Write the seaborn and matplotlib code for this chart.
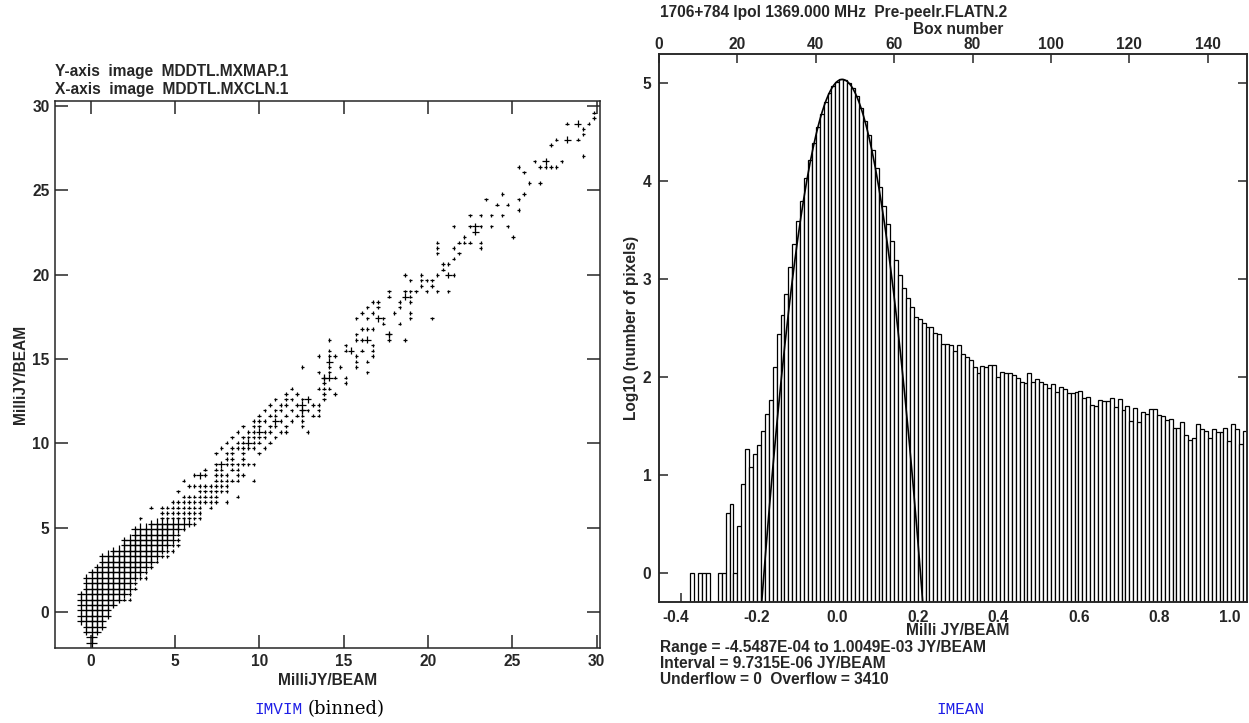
import numpy as np
import pandas as pd
import matplotlib
matplotlib.use("Agg")
import matplotlib.pyplot as plt
import matplotlib.transforms as mtransforms
import seaborn as sns

nan = np.nan

# ---- IMEAN histogram: log10(number of pixels) per box, NaN = empty box ----
range_lo = -0.45487      # milli JY/BEAM
range_hi = 1.0049
box_width = 0.0097315
hist_log10 = (
    [nan] * 8
    + [0.0, nan, 0.0, 0.0, 0.0, nan, nan, 0.0, 0.0]
    + [0.61, 0.70, 0.0, 0.48, 0.91, 1.26, 1.08, 1.21, 1.30, 1.45,
       1.62, 1.76, 2.10, 2.44, 2.63, 2.85, 3.12, 3.36, 3.59, 3.80,
       4.03, 4.22, 4.39, 4.55, 4.69, 4.81, 4.90, 4.97, 5.01, 5.04,
       5.03, 5.00, 4.95, 4.87, 4.75, 4.62, 4.47, 4.32, 4.13, 3.94,
       3.75, 3.56, 3.39, 3.20, 3.04, 2.91, 2.81, 2.71, 2.61, 2.59,
       2.55, 2.51, 2.51, 2.45, 2.44, 2.34, 2.34, 2.33, 2.26, 2.33,
       2.23, 2.20, 2.17, 2.10, 2.04, 2.11, 2.10, 2.12, 2.12, 2.00,
       2.05, 2.04, 2.04, 2.02, 1.99, 1.95, 1.94, 2.04, 1.95, 1.98,
       1.95, 1.93, 1.89, 1.93, 1.85, 1.90, 1.88, 1.84, 1.84, 1.85,
       1.86, 1.78, 1.80, 1.71, 1.70, 1.76, 1.75, 1.75, 1.78, 1.69,
       1.77, 1.66, 1.70, 1.55, 1.68, 1.54, 1.64, 1.62, 1.67, 1.67,
       1.61, 1.60, 1.56, 1.57, 1.48, 1.48, 1.54, 1.41, 1.36, 1.38,
       1.52, 1.47, 1.45, 1.38, 1.47, 1.44, 1.44, 1.48, 1.35, 1.52,
       1.47, 1.31, 1.45]
)
# gaussian fit drawn over the histogram
fit_peak = 5.04
fit_center = 0.0
fit_sigma = 0.0403

# ---- IMVIM binned scatter: bin grid (MilliJY/BEAM) ----
bin_size = 0.3205
bin_x0 = 0.046
bin_y0 = 0.10
# dense core: per row j, columns i_lo..i_hi carry the big crosses,
# then a few small ones further right
core_j = list(range(-6, 17))
core_ilo = [0, 0, -1, -1, -2, -2, -2, -2, -2, -2, -1, -1, -1, 0, 1, 2, 2, 4, 6, 6, 8, 8, 11]
core_ihi = [0, 0, 1, 2, 2, 3, 3, 4, 5, 6, 7, 7, 8, 9, 10, 11, 12, 13, 14, 15, 15, 16, 18]
core_extra = [0, 0, 0, 0, 0, 0, 0, 0, 2, 1, 1, 1, 2, 1, 1, 1, 2, 2, 2, 1, 1, 1, 1]
# middle band rows: occupied columns per row
band_rows = {
    17: [9, 13, 14, 15, 16, 17, 18, 19, 20],
    18: [13, 14, 15, 16, 17, 18, 19, 20],
    19: [11, 13, 14, 15, 16, 17, 18, 19, 20, 22],
    20: [15, 16, 17, 18, 19, 20, 21, 22, 23, 25],
    21: [17, 18, 19, 20, 21, 22, 23, 27],
    22: [16, 20, 21, 22, 23, 24, 25],
    23: [18, 19, 20, 21, 22, 23, 24, 25],
    24: [17, 23, 24, 25, 26, 27, 30],
    25: [19, 20, 21, 23, 24, 25, 27, 28],
    26: [21, 23, 24, 26, 27],
    27: [23, 24, 25, 26, 27, 28, 29, 30],
    28: [25, 26, 28],
    29: [23, 25, 26, 28, 31],
    30: [24, 26, 27, 28, 29, 30, 32],
    31: [25, 27, 28, 29, 30, 31, 33],
    32: [26, 28, 29, 30, 31, 32, 34],
    33: [27, 29, 30, 31, 32, 33, 35, 36],
    34: [28, 30, 31, 33, 34, 36],
    35: [30, 31, 32, 34, 35, 37],
    36: [31, 33, 34, 36, 38],
    37: [32, 34, 35, 37],
    38: [33, 35, 36, 38],
    39: [34, 36, 37],
    40: [36, 38],
    41: [37],
}
band_mid = [(17, 25), (20, 25), (24, 27), (29, 31), (31, 33), (34, 35), (27, 29)]
# sparse bins (i, j), upper part of the plot
sparse_bins = [
    (93, 92), (93, 91), (92, 90), (88, 90), (91, 89), (91, 88), (86, 87), (90, 87),
    (85, 86), (91, 84), (82, 83), (87, 83), (83, 82), (84, 82), (85, 82), (86, 82),
    (79, 82), (80, 81), (81, 79), (83, 79), (76, 77), (80, 77), (73, 76), (79, 76),
    (75, 75), (77, 75), (79, 74), (70, 73), (72, 73), (74, 73), (76, 73), (67, 71),
    (70, 71), (72, 71), (74, 71), (77, 71), (69, 69), (68, 68), (69, 68), (70, 68),
    (72, 68), (72, 67), (78, 69), (64, 68), (64, 67), (64, 66), (67, 67), (68, 66),
    (67, 65), (65, 64), (66, 64), (65, 63), (64, 62), (67, 62), (58, 62), (59, 61),
    (61, 62), (61, 61), (62, 61), (63, 61), (61, 60), (63, 60), (55, 59), (55, 58),
    (58, 59), (59, 59), (60, 59), (62, 59), (64, 59), (66, 59), (59, 58), (59, 57),
    (52, 57), (53, 57), (51, 56), (53, 56), (57, 57), (57, 56), (56, 55), (49, 54),
    (51, 54), (52, 55), (50, 55), (54, 54), (54, 53), (59, 55), (59, 54), (63, 54),
    (57, 53), (50, 52), (51, 52), (52, 52), (55, 51), (55, 50), (58, 50), (49, 51),
    (49, 50), (50, 50), (52, 49), (52, 48), (52, 47), (51, 46), (51, 44), (47, 49),
    (47, 48), (50, 48), (49, 47), (49, 46), (49, 45), (44, 50), (44, 48), (44, 47),
    (45, 47), (42, 47), (44, 45), (46, 45), (42, 44), (44, 44), (43, 43), (45, 43),
    (47, 43), (47, 42), (43, 42), (42, 41), (43, 41), (44, 41), (43, 40), (45, 40),
    (43, 39), (39, 45), (39, 39), (41, 38), (42, 38), (39, 37), (40, 37), (42, 37),
    (41, 36), (42, 36), (39, 36), (39, 35), (39, 34), (40, 33),
]
big_bins = [(90, 90), (88, 87), (84, 83), (71, 71), (71, 70), (66, 62), (58, 58),
            (53, 54), (55, 51), (51, 50), (48, 48), (44, 46), (43, 43), (44, 43),
            (40, 39), (39, 38), (39, 37)]

# ---------------------------------------------------------------------------
sns.set_style("ticks")
plt.rcParams["font.family"] = ["Liberation Sans", "DejaVu Sans"]
plt.rcParams["font.weight"] = "bold"
plt.rcParams["axes.labelweight"] = "bold"
plt.rcParams["axes.linewidth"] = 1.1

W, H = 1249, 723
fig = plt.figure(figsize=(W / 100, H / 100), dpi=100)


def px_axes(x0, y0, x1, y1):
    return fig.add_axes([x0 / W, 1 - y1 / H, (x1 - x0) / W, (y1 - y0) / H])


def px_text(x, y, s, **kw):
    fig.text(x / W, 1 - y / H, s, **kw)


FS = 11.2

# ---------------- left: IMVIM scatter ----------------
rows = []
for j, lo, hi, ex in zip(core_j, core_ilo, core_ihi, core_extra):
    for i in range(lo, hi + 1):
        rows.append((i, j, "big" if lo < i < hi or lo == hi else "mid"))
    for i in range(hi + 1, hi + 1 + ex):
        rows.append((i, j, "small"))
for j, cols in band_rows.items():
    for i in cols:
        rows.append((i, j, "mid" if (i, j) in band_mid else "small"))
for i, j in sparse_bins:
    rows.append((i, j, "small"))
for i, j in big_bins:
    rows.append((i, j, "mid"))
pts = pd.DataFrame(rows, columns=["i", "j", "w"])
pts["x"] = bin_x0 + bin_size * pts["i"]
pts["y"] = bin_y0 + bin_size * pts["j"]

ax1 = px_axes(55, 101, 600, 648)
sns.scatterplot(data=pts, x="x", y="y", size="w",
                sizes={"small": 6, "mid": 25, "big": 70},
                marker="+", color="black", linewidth=0.9, legend=False, ax=ax1)
ax1.set_xlim(-2.13, 30.2)
ax1.set_ylim(-2.13, 30.28)
ax1.set_xticks(range(0, 31, 5))
ax1.set_yticks(range(0, 31, 5))
ax1.tick_params(direction="in", length=9.5, width=1.1, top=True, right=True,
                labelsize=FS, pad=4)
ax1.set_xlabel("MilliJY/BEAM", fontsize=FS, labelpad=3)
ax1.set_ylabel("MilliJY/BEAM", fontsize=FS, labelpad=3)
px_text(55, 76, "Y-axis  image  MDDTL.MXMAP.1", fontsize=FS, ha="left", va="baseline")
px_text(55, 94, "X-axis  image  MDDTL.MXCLN.1", fontsize=FS, ha="left", va="baseline")

# ---------------- right: IMEAN histogram ----------------
vals = np.array(hist_log10, dtype=float)
assert len(vals) == 150
centers = range_lo + (np.arange(len(vals)) + 0.5) * box_width
ybot = -0.3
ok = ~np.isnan(vals)

ax2 = px_axes(659, 54, 1247, 602)
ax2.bar(centers[ok], vals[ok] - ybot, bottom=ybot, width=box_width,
        color="white", edgecolor="black", linewidth=0.9)
fx = np.linspace(-0.3, 0.3, 241)
fy = fit_peak - (fx - fit_center) ** 2 / (2 * fit_sigma ** 2) * np.log10(np.e)
sns.lineplot(x=fx, y=fy, color="black", linewidth=1.2, ax=ax2)
ax2.set_xlim(range_lo, range_hi)
ax2.set_ylim(ybot, 5.3)
ax2.set_xticks(np.arange(-0.4, 1.01, 0.2))
ax2.set_xticklabels(["-0.4", "-0.2", "0.0", "0.2", "0.4", "0.6", "0.8", "1.0"])
ax2.set_yticks(range(0, 6))
ax2.tick_params(direction="in", length=6.5, width=1.1, right=True, top=False,
                labelsize=FS, pad=5.5)
shift = mtransforms.ScaledTranslation(-5 / 100, 0, fig.dpi_scale_trans)
for lab in ax2.get_xticklabels():
    lab.set_transform(lab.get_transform() + shift)
ax2.get_xticklabels()[-1].set_horizontalalignment("right")
ax2.set_ylabel("Log10 (number of pixels)", fontsize=FS, labelpad=3)
px_text(958, 635, "Milli JY/BEAM", fontsize=FS, ha="center", va="baseline")

top = ax2.twiny()
top.set_xlim(0, 150)
top.set_xticks(range(0, 141, 20))
top.tick_params(direction="in", length=6.5, width=1.1, labelsize=FS, pad=1.2)
px_text(958, 34, "Box number", fontsize=FS, ha="center", va="baseline")

px_text(660, 17, "1706+784 Ipol 1369.000 MHz  Pre-peelr.FLATN.2", fontsize=FS,
        ha="left", va="baseline")
px_text(660, 652, "Range = -4.5487E-04 to 1.0049E-03 JY/BEAM", fontsize=FS,
        ha="left", va="baseline")
px_text(660, 668, "Interval = 9.7315E-06 JY/BEAM", fontsize=FS, ha="left", va="baseline")
px_text(660, 684, "Underflow = 0  Overflow = 3410", fontsize=FS, ha="left", va="baseline")

# captions under the panels
blue = "#1f1fe6"
px_text(303, 714, "IMVIM", fontsize=11.5, color=blue, family="Liberation Mono",
        weight="normal", ha="right", va="baseline")
px_text(308, 714, "(binned)", fontsize=13, color="black", family="DejaVu Serif",
        weight="normal", ha="left", va="baseline")
px_text(960, 714, "IMEAN", fontsize=11.5, color=blue, family="Liberation Mono",
        weight="normal", ha="center", va="baseline")

fig.savefig("out.png", dpi=100)
